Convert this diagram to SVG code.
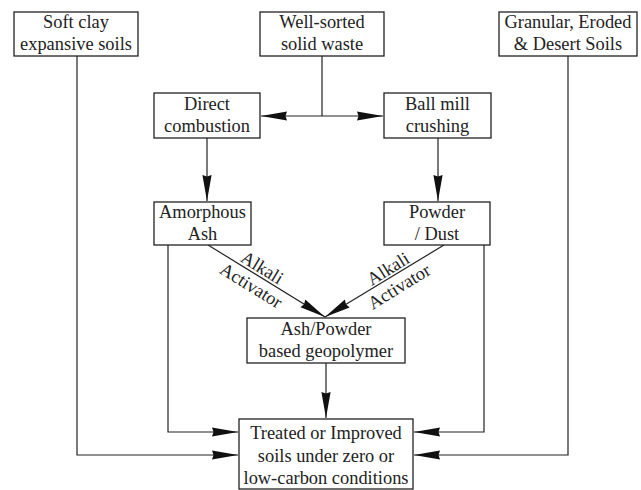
<svg xmlns="http://www.w3.org/2000/svg" width="641" height="490" viewBox="0 0 641 490">
<defs>
<style>
.box{fill:#fff;stroke:#222;stroke-width:1.3}
.t{font-family:"Liberation Serif","Times New Roman",serif;font-size:18.4px;fill:#222;text-anchor:middle}
.c{fill:none;stroke:#222;stroke-width:1.2}
</style>
<marker id="ah" viewBox="-27 -6 28 12" refX="0" refY="0" markerWidth="28" markerHeight="12" markerUnits="userSpaceOnUse" orient="auto">
<path d="M0,0 L-26,-4.6 L-24.5,0 L-26,4.6 Z" fill="#111"/>
</marker>
</defs>
<rect width="641" height="490" fill="#fff"/>
<g id="connectors">
<path class="c" d="M322,56 V116"/>
<path class="c" d="M322,116 H261" marker-end="url(#ah)"/>
<path class="c" d="M322,116 H383" marker-end="url(#ah)"/>
<path class="c" d="M207,138 V201" marker-end="url(#ah)"/>
<path class="c" d="M438,138 V201" marker-end="url(#ah)"/>
<path class="c" d="M208,245 L325,317" marker-end="url(#ah)"/>
<path class="c" d="M444,245 L325,317" marker-end="url(#ah)"/>
<path class="c" d="M326,363 V418" marker-end="url(#ah)"/>
<path class="c" d="M168,245 V432 H238" marker-end="url(#ah)"/>
<path class="c" d="M484,245 V432 H414" marker-end="url(#ah)"/>
<path class="c" d="M77,56 V455 H238" marker-end="url(#ah)"/>
<path class="c" d="M568,56 V455 H414" marker-end="url(#ah)"/>
<g transform="translate(257.4,275.4) rotate(31.6)">
<text class="t" x="0" y="-3">Alkali</text>
<text class="t" x="0" y="18">Activator</text>
</g>
<g transform="translate(392.9,276.4) rotate(-31.6)">
<text class="t" x="0" y="-3">Alkali</text>
<text class="t" x="0" y="18">Activator</text>
</g>
</g>
<g id="soft-clay">
<rect class="box" x="14" y="12" width="124" height="44"/>
<text class="t" x="76" y="28">Soft clay</text>
<text class="t" x="76" y="50">expansive soils</text>
</g>
<g id="well-sorted">
<rect class="box" x="260" y="12" width="124" height="44"/>
<text class="t" x="322" y="28">Well-sorted</text>
<text class="t" x="322" y="50">solid waste</text>
</g>
<g id="granular">
<rect class="box" x="499" y="12" width="138" height="44"/>
<text class="t" x="568" y="28">Granular, Eroded</text>
<text class="t" x="568" y="50">&amp; Desert Soils</text>
</g>
<g id="direct-combustion">
<rect class="box" x="154" y="93" width="106" height="45"/>
<text class="t" x="207" y="110">Direct</text>
<text class="t" x="207" y="132">combustion</text>
</g>
<g id="ball-mill">
<rect class="box" x="384" y="93" width="107" height="45"/>
<text class="t" x="437.5" y="110">Ball mill</text>
<text class="t" x="437.5" y="132">crushing</text>
</g>
<g id="amorphous-ash">
<rect class="box" x="154" y="202" width="97" height="43"/>
<text class="t" x="202.5" y="218">Amorphous</text>
<text class="t" x="202.5" y="240">Ash</text>
</g>
<g id="powder-dust">
<rect class="box" x="384" y="202" width="106" height="43"/>
<text class="t" x="437" y="218">Powder</text>
<text class="t" x="437" y="240">/ Dust</text>
</g>
<g id="geopolymer">
<rect class="box" x="247" y="318" width="158" height="45"/>
<text class="t" x="326" y="335">Ash/Powder</text>
<text class="t" x="326" y="357">based geopolymer</text>
</g>
<g id="treated">
<rect class="box" x="239" y="419" width="174" height="70"/>
<text class="t" x="326" y="439">Treated or Improved</text>
<text class="t" x="326" y="462">soils under zero or</text>
<text class="t" x="326" y="484">low-carbon conditions</text>
</g>
</svg>
